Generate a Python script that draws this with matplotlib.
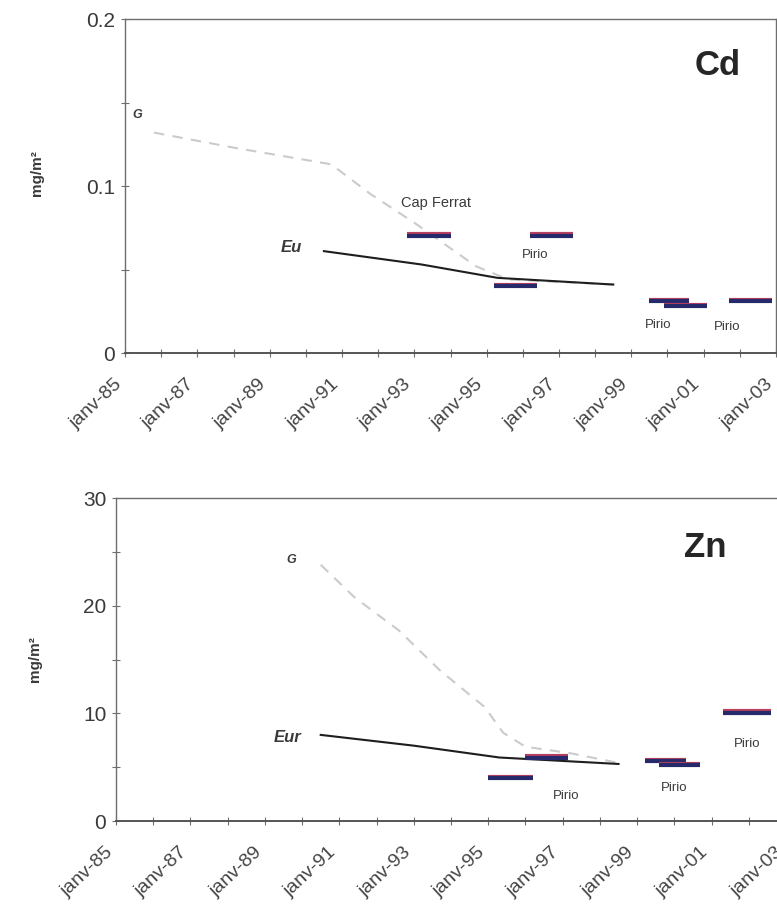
import numpy as np
import matplotlib.pyplot as plt
from matplotlib import transforms

plt.rcParams['font.family'] = ['Liberation Sans', 'DejaVu Sans']

# x axis: decimal years
tick_years = [1985, 1987, 1989, 1991, 1993, 1995, 1997, 1999, 2001, 2003]
tick_labels = ['janv-85', 'janv-87', 'janv-89', 'janv-91', 'janv-93',
               'janv-95', 'janv-97', 'janv-99', 'janv-01', 'janv-03']

# Cd panel (mg/m2)
cd_g_x = [1985.8, 1988.0, 1990.7, 1991.8, 1993.0, 1994.7, 1995.6, 1998.5]
cd_g_y = [0.132, 0.123, 0.113, 0.095, 0.078, 0.052, 0.044, 0.041]
cd_eu_x = [1990.5, 1993.2, 1995.3, 1998.5]
cd_eu_y = [0.061, 0.053, 0.045, 0.041]
cd_bar_start = [1992.8, 1996.2, 1995.2, 1999.5, 1999.9, 2001.7]
cd_bar_end = [1994.0, 1997.4, 1996.4, 2000.6, 2001.1, 2002.9]
cd_bar_val = [0.071, 0.071, 0.041, 0.032, 0.029, 0.032]

# Zn panel (mg/m2)
zn_g_x = [1990.5, 1991.4, 1992.6, 1993.7, 1994.9, 1995.4, 1996.0, 1997.2, 1998.5]
zn_g_y = [23.8, 20.8, 17.7, 14.0, 10.6, 8.2, 6.9, 6.3, 5.4]
zn_eu_x = [1990.5, 1993.0, 1995.3, 1998.5]
zn_eu_y = [8.0, 7.0, 5.9, 5.3]
zn_bar_start = [1995.0, 1996.0, 1999.2, 1999.6, 2001.3]
zn_bar_end = [1996.2, 1997.15, 2000.3, 2000.7, 2002.6]
zn_bar_val = [4.1, 6.0, 5.7, 5.3, 10.2]

fig = plt.figure(figsize=(7.77, 9.15), dpi=100)
ax1 = fig.add_axes([0.1609, 0.6142, 0.8378, 0.365])
ax2 = fig.add_axes([0.1493, 0.1027, 0.8623, 0.353])

text_col = '#3a3a3a'
spine_col = '#6e6e6e'


def draw_bars(ax, x0, x1, vals):
    # magenta edge on top, navy bar under it
    shift = transforms.ScaledTranslation(0, -1.0 / 72, fig.dpi_scale_trans)
    for a, b, v in zip(x0, x1, vals):
        ax.plot([a, b], [v, v], color='#b8405e', lw=3.0, solid_capstyle='butt')
        ax.plot([a, b], [v, v], color='#262a6a', lw=3.0, solid_capstyle='butt',
                transform=ax.transData + shift)


def style(ax, ymax, ymajor, yminor, yfmt):
    ax.set_xlim(1985, 2003)
    ax.set_ylim(0, ymax)
    ax.set_xticks(tick_years)
    ax.set_xticklabels(tick_labels, rotation=43, ha='right', va='center',
                       rotation_mode='anchor', fontsize=14, color='#454545')
    ax.set_xticks(np.arange(1985, 2004), minor=True)
    ax.set_yticks(ymajor)
    ax.set_yticklabels(yfmt, fontsize=15, color=text_col)
    ax.set_yticks(yminor, minor=True)
    ax.tick_params(axis='both', which='both', direction='inout', length=6,
                   width=0.8, color=spine_col)
    ax.tick_params(axis='x', which='major', pad=18)
    ax.tick_params(axis='y', which='major', pad=4)
    # pull labels a bit left so their right end sits under the tick
    left = transforms.ScaledTranslation(-4 / 72, 0, fig.dpi_scale_trans)
    for lab in ax.get_xticklabels():
        lab.set_transform(lab.get_transform() + left)
    for s in ax.spines.values():
        s.set_color(spine_col)
        s.set_linewidth(1.0)
    ax.spines['bottom'].set_linewidth(1.4)
    ax.spines['bottom'].set_color('#555555')
    ax.set_ylabel('mg/m²', fontsize=11, fontweight='bold', color=text_col)


# ---- Cd ----
ax1.plot(cd_g_x, cd_g_y, color='#cbcbcb', lw=1.5, ls=(0, (5, 4)))
ax1.plot(cd_eu_x, cd_eu_y, color='#1e1e1e', lw=1.5)
draw_bars(ax1, cd_bar_start, cd_bar_end, cd_bar_val)
style(ax1, 0.2, [0, 0.1, 0.2], [0.05, 0.15], ['0', '0.1', '0.2'])
ax1.yaxis.set_label_coords(-0.125, 0.54)

ax1.text(2001.4, 0.172, 'Cd', fontsize=25, fontweight='bold', color='#262626',
         ha='center', va='center')
ax1.text(1985.35, 0.1425, 'G', fontsize=9, fontweight='bold', style='italic',
         color=text_col, ha='center', va='center')
ax1.text(1989.6, 0.063, 'Eu', fontsize=12, fontweight='bold', style='italic',
         color=text_col, ha='center', va='center')
ax1.text(1993.6, 0.090, 'Cap Ferrat', fontsize=10.5, color=text_col,
         ha='center', va='center')
ax1.text(1996.35, 0.0587, 'Pirio', fontsize=9.5, color=text_col,
         ha='center', va='center')
ax1.text(1999.74, 0.017, 'Pirio', fontsize=9.5, color=text_col,
         ha='center', va='center')
ax1.text(2001.64, 0.0155, 'Pirio', fontsize=9.5, color=text_col,
         ha='center', va='center')

# ---- Zn ----
ax2.plot(zn_g_x, zn_g_y, color='#cbcbcb', lw=1.5, ls=(0, (5, 4)))
ax2.plot(zn_eu_x, zn_eu_y, color='#1e1e1e', lw=1.5)
draw_bars(ax2, zn_bar_start, zn_bar_end, zn_bar_val)
style(ax2, 30, [0, 10, 20, 30], [5, 15, 25], ['0', '10', '20', '30'])
ax2.yaxis.set_label_coords(-0.11, 0.5)

ax2.text(2000.83, 25.4, 'Zn', fontsize=25, fontweight='bold', color='#262626',
         ha='center', va='center')
ax2.text(1989.7, 24.2, 'G', fontsize=9, fontweight='bold', style='italic',
         color=text_col, ha='center', va='center')
ax2.text(1989.6, 7.8, 'Eur', fontsize=12, fontweight='bold', style='italic',
         color=text_col, ha='center', va='center')
ax2.text(1997.1, 2.3, 'Pirio', fontsize=9.5, color=text_col,
         ha='center', va='center')
ax2.text(2000.0, 3.1, 'Pirio', fontsize=9.5, color=text_col,
         ha='center', va='center')
ax2.text(2001.95, 7.2, 'Pirio', fontsize=9.5, color=text_col,
         ha='center', va='center')

fig.savefig('out.png', dpi=100)
